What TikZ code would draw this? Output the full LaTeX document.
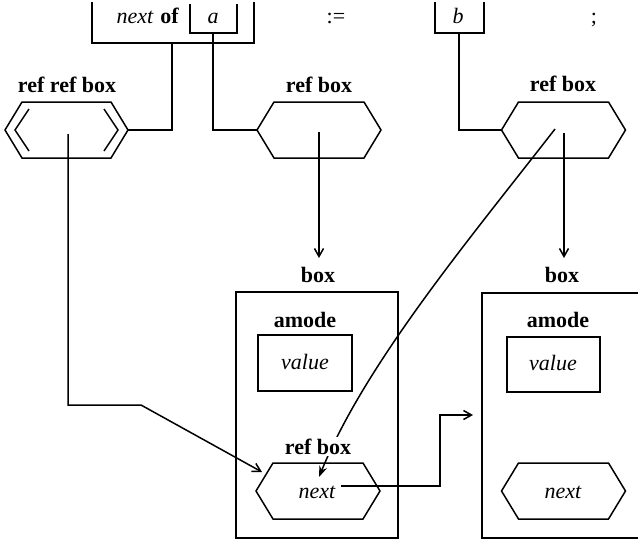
\documentclass[tikz,border=0pt]{standalone}
\usepackage{fontspec}
\setmainfont{Liberation Serif}
\usetikzlibrary{arrows.meta}
\newcommand{\hexa}[4]{% name, cx, cy, halfwidth
  \coordinate (#1-c) at (#2,#3);
  \coordinate (#1-l) at ({#2-#4},#3);
  \coordinate (#1-r) at ({#2+#4},#3);
  \draw ({#2-#4},#3) -- ({#2-#4+17},{#3-28}) -- ({#2+#4-17},{#3-28}) -- ({#2+#4},#3)
        -- ({#2+#4-17},{#3+28}) -- ({#2-#4+17},{#3+28}) -- cycle;}
\begin{document}
\begin{tikzpicture}[x=1pt,y=-1pt,line width=1.5pt,
  lbl/.style={font=\fontsize{22}{26}\selectfont\bfseries,anchor=base,inner sep=1pt},
  itl/.style={font=\fontsize{22}{26}\selectfont\itshape,anchor=base,inner sep=1pt},
  rml/.style={font=\fontsize{22}{26}\selectfont,anchor=base,inner sep=1pt},
  arr/.style={-{Straight Barb[length=8pt,width=9pt,line width=1.5pt]}},
  barr/.style={-{Stealth[length=11pt,width=8pt]}}]
\useasboundingbox (0,0) rectangle (638,539);
\clip (0,0) rectangle (638,539);
% top row
\node[itl] (nx) at (135,23) {next};
\node[lbl,anchor=base west] (of) at (nx.base east) {\,of};
\node[itl] (a) at (213,23) {a};
\node[rml] (asg) at (336,23) {:=};
\node[itl] (b) at (458,23) {b};
\node[rml] (sc) at (594,23) {;};
\draw (92,2) -- (92,43) -- (254,43) -- (254,2);
\draw (190,4) -- (190,33) -- (237,33) -- (237,4);
\draw (435,2) -- (435,33) -- (484,33) -- (484,2);
\coordinate (s1) at (172,43);
\coordinate (s2) at (213,33);
\coordinate (s3) at (459,33);
% ref ref box
\node[lbl] (rrbL) at (67,92) {ref ref box};
\hexa{rrb}{66.5}{130}{61.5}
\draw (29,109) -- (15,130) -- (29,151);
\draw (104,109) -- (118,130) -- (104,151);
\draw (rrb-r) -| (s1);
% ref box a
\node[lbl] (rbaL) at (319,92) {ref box};
\hexa{rba}{319}{130}{62}
\draw (s2) |- (rba-l);
% ref box b
\node[lbl] (rbbL) at (563,91) {ref box};
\hexa{rbb}{563.5}{130}{62}
\draw (s3) |- (rbb-l);
% box a
\node[lbl] (boxaL) at (318,282) {box};
\draw (236,292) rectangle (398,538);
\node[lbl] (amaL) at (305,327) {amode};
\draw (258,335) rectangle (352,391);
\node[itl] (va) at (305,369) {value};
\hexa{nxa}{318}{491}{62}
\node[itl] (nxaT) at (317,498) {next};
% box b
\node[lbl] (boxbL) at (562,282) {box};
\draw (482,293) rectangle (680,538);
\node[lbl] (ambL) at (558,327) {amode};
\draw (507,337) rectangle (600,392);
\node[itl] (vb) at (553,370) {value};
\hexa{nxb}{563.5}{491}{62}
\node[itl] (nxbT) at (563,498) {next};
% connectors
\coordinate (ta) at (319,258);
\coordinate (tb) at (564,258);
\coordinate (rbaS) at (319,132);
\coordinate (rbbS) at (564,133);
\draw[arr] (rbaS) -- (ta);
\draw[arr] (rbbS) -- (tb);
\coordinate (cb) at (555,129);
\coordinate (ce) at (319,477);
\draw[barr] (cb) .. controls (472,236) and (366,362) .. (ce);
\node[lbl,fill=white,inner sep=2pt] (rbinL) at (318,454) {ref box};
\coordinate (rrbS) at (68,134);
\coordinate (k1) at (141,405);
\coordinate (t2) at (262,472);
\draw[arr] (rrbS) |- (k1) -- (t2);
\coordinate (k2) at (440,415);
\coordinate (t3) at (473,415);
\draw[arr] (nxaT.east) ++(4,-6) coordinate (n0) -| (k2) -- (t3);
\end{tikzpicture}
\end{document}
